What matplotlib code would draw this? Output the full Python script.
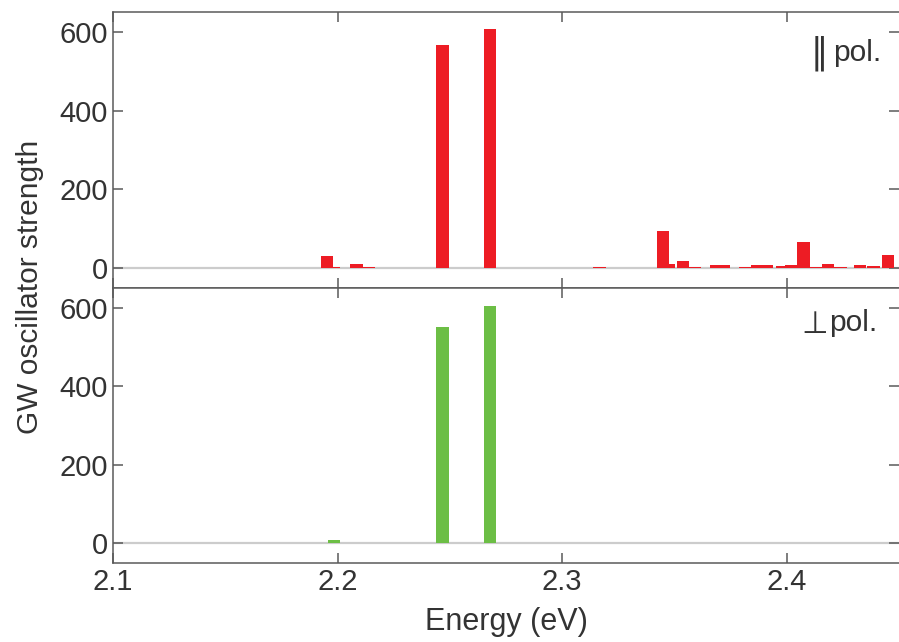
import matplotlib
matplotlib.use("Agg")
import matplotlib.pyplot as plt

plt.rcParams['font.family'] = ['Liberation Sans', 'DejaVu Sans']

# parallel polarisation: exciton energies (eV) and oscillator strengths
par_energy = [2.1576, 2.1696, 2.1800, 2.1953, 2.1984, 2.2084, 2.2140, 2.2200,
              2.2468, 2.2678, 2.2900, 2.2953, 2.3166, 2.3339, 2.3475, 2.3448,
              2.3537, 2.3590, 2.3687, 2.3721, 2.3816, 2.3869, 2.3913, 2.3978,
              2.4022, 2.4075, 2.4129, 2.4184, 2.4240, 2.4326, 2.4386, 2.4450]
par_strength = [0.5, 0.5, 0.5, 31, 4, 10, 3, 1,
                567, 606, 1, 1, 4, 1, 12, 94,
                18, 2, 8, 8, 3, 9, 9, 5,
                9, 66, 2, 10, 2, 9, 5, 33]

# perpendicular polarisation
perp_energy = [2.1792, 2.1942, 2.1984, 2.2173, 2.2468, 2.2678, 2.2856,
               2.3583, 2.3933, 2.4042, 2.4461]
perp_strength = [1, 1, 9, 0.5, 551, 605, 0.5,
                 2, 1, 1.5, 2]

x_ticks = [2.1, 2.2, 2.3, 2.4]
x_labels = ['2.1', '2.2', '2.3', '2.4']
y_ticks = [0, 200, 400, 600]

bar_w = 0.0055
red = '#ED1C24'
green = '#6CBE45'
spine_col = '#5a5a5a'
text_col = '#333333'

fig = plt.figure(figsize=(8.99, 6.42), dpi=100)
ax1 = fig.add_axes([113 / 899, 1 - 288 / 642, 1 - 113 / 899, 276 / 642])
ax2 = fig.add_axes([113 / 899, 1 - 563 / 642, 1 - 113 / 899, 275 / 642], sharex=ax1)

for ax, e, s, col in [(ax1, par_energy, par_strength, red),
                      (ax2, perp_energy, perp_strength, green)]:
    ax.axhline(0, color='#cccccc', lw=1.6, zorder=1)
    ax.bar(e, s, width=bar_w, color=col, zorder=2, linewidth=0)
    ax.set_xlim(2.1, 2.45)
    ax.set_ylim(-50, 650)
    ax.set_xticks(x_ticks)
    ax.set_yticks(y_ticks)
    ax.tick_params(direction='in', length=7, width=1.1, colors=spine_col,
                   labelcolor=text_col, labelsize=21, top=True, right=True)
    for side in ['left', 'top', 'bottom']:
        ax.spines[side].set_color(spine_col)
        ax.spines[side].set_linewidth(1.1)
    ax.spines['right'].set_visible(False)

ax1.tick_params(labelbottom=False)
ax2.set_xticklabels(x_labels)
ax2.set_xlabel('Energy (eV)', fontsize=22, color=text_col, labelpad=8)
fig.text(30 / 899, 1 - 287 / 642, 'GW oscillator strength', rotation=90,
         ha='center', va='center', fontsize=21.5, color=text_col)

# polarisation labels
fig.text(819 / 899, 1 - 53 / 642, '\u2016', family='DejaVu Sans', fontsize=25,
         ha='center', va='center', color=text_col)
fig.text(833 / 899, 1 - 53 / 642, 'pol.', fontsize=21.5,
         ha='left', va='center', color=text_col)
fig.text(815 / 899, 1 - 333 / 642, '\u22a5', family='DejaVu Sans', fontsize=22,
         ha='center', va='baseline', color=text_col)
fig.text(829 / 899, 1 - 323 / 642, 'pol.', fontsize=21.5,
         ha='left', va='center', color=text_col)

fig.savefig('out.png', dpi=100)
